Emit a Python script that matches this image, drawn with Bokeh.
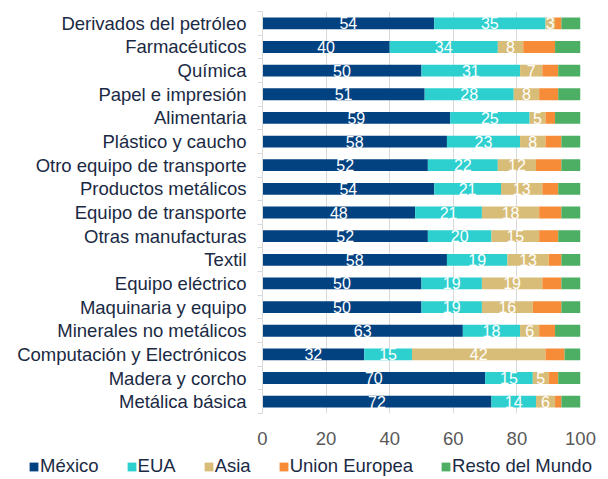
import numpy as np
from bokeh.plotting import figure
from bokeh.models import (ColumnDataSource, Range1d, FixedTicker, Legend, LegendItem, LabelSet)
from bokeh.core.properties import value
from bokeh.embed import file_html
from bokeh.resources import INLINE

categories = ["Derivados del petróleo", "Farmacéuticos", "Química", "Papel e impresión",
              "Alimentaria", "Plástico y caucho", "Otro equipo de transporte",
              "Productos metálicos", "Equipo de transporte", "Otras manufacturas", "Textil",
              "Equipo eléctrico", "Maquinaria y equipo", "Minerales no metálicos",
              "Computación y Electrónicos", "Madera y corcho", "Metálica básica"]
mexico = [54, 40, 50, 51, 59, 58, 52, 54, 48, 52, 58, 50, 50, 63, 32, 70, 72]
eua    = [35, 34, 31, 28, 25, 23, 22, 21, 21, 20, 19, 19, 19, 18, 15, 15, 14]
asia   = [3, 8, 7, 8, 5, 8, 12, 13, 18, 15, 13, 19, 16, 6, 42, 5, 6]
ue     = [2, 10, 5, 6, 3, 5, 8, 5, 7, 6, 4, 6, 9, 5, 6, 3, 2]
resto  = [6, 8, 7, 7, 8, 6, 6, 7, 6, 7, 6, 6, 6, 8, 5, 7, 6]
series_names = ["México", "EUA", "Asia", "Union Europea", "Resto del Mundo"]
x_ticks = [0, 20, 40, 60, 80, 100]

colors = ["#034281", "#2ecfcf", "#d8bd78", "#f68b38", "#4caf64"]
keys = ["mexico", "eua", "asia", "ue", "resto"]
FONT = "Liberation Sans"
FS = "18.5px"

n = len(categories)
ypos = list(range(n))
data = dict(y=ypos, mexico=mexico, eua=eua, asia=asia, ue=ue, resto=resto)
source = ColumnDataSource(data)

p = figure(width=608, height=455, output_backend="svg", toolbar_location=None,
           x_range=Range1d(0, 100), y_range=Range1d(n - 0.5, -0.5),
           min_border_left=262, min_border_right=28, min_border_top=11, min_border_bottom=42)
p.outline_line_color = None
p.background_fill_color = "white"

renderers = p.hbar_stack(keys, y="y", height=0.5, color=colors, source=source, line_color=None)

# value labels for first three series
cum = np.zeros(n)
for arr in [mexico, eua, asia]:
    a = np.array(arr, dtype=float)
    mid = cum + a / 2.0
    cum = cum + a
    ls = ColumnDataSource(dict(x=mid, y=ypos, t=[str(v) for v in arr]))
    p.add_layout(LabelSet(x="x", y="y", text="t", source=ls, text_color="white",
                          text_font=value(FONT), text_font_size="16px", text_align="center",
                          text_baseline="middle"))

# x axis
p.xaxis.ticker = FixedTicker(ticks=x_ticks)
p.xaxis.axis_line_color = None
p.xaxis.major_tick_line_color = None
p.xaxis.minor_tick_line_color = None
p.xaxis.major_label_text_font = FONT
p.xaxis.major_label_text_font_size = FS
p.xaxis.major_label_text_color = "#595959"
p.xaxis.major_label_standoff = 12

# y axis
p.yaxis.ticker = FixedTicker(ticks=ypos, minor_ticks=[i - 0.5 for i in range(n + 1)])
p.yaxis.major_label_overrides = {i: c for i, c in enumerate(categories)}
p.yaxis.axis_line_color = "#d9d9d9"
p.yaxis.major_tick_line_color = None
p.yaxis.minor_tick_line_color = "#d9d9d9"
p.yaxis.minor_tick_out = 5
p.yaxis.minor_tick_in = 0
p.yaxis.major_label_text_font = FONT
p.yaxis.major_label_text_font_size = FS
p.yaxis.major_label_text_color = "#1a2a44"
p.yaxis.major_label_standoff = 10

p.xgrid.grid_line_color = "#d9d9d9"
p.ygrid.grid_line_color = None

# legend figure (separate root, stacked below)
lg = figure(width=608, height=24, output_backend="svg", toolbar_location=None,
            x_axis_type=None, y_axis_type=None, min_border=0,
            x_range=Range1d(0, 100), y_range=Range1d(n - 0.5, -0.5))
lg.outline_line_color = None
lg.xgrid.visible = False
lg.ygrid.visible = False
lg_rs = lg.hbar_stack(keys, y="y", height=0.5, color=colors, source=source, line_color=None)
for r in lg_rs:
    r.visible = False
items = [LegendItem(label=nm, renderers=[r]) for nm, r in zip(series_names, lg_rs)]
legend = Legend(items=items, orientation="horizontal", location=(28, 2),
                border_line_color=None, background_fill_alpha=0,
                inactive_fill_alpha=0,
                label_text_font=FONT, label_text_font_size=FS, label_text_color="#1a2a44",
                glyph_width=11, glyph_height=11, label_standoff=1, spacing=27,
                padding=0, margin=0, label_height=20)
lg.add_layout(legend, "center")

open("out.html", "w").write(file_html([p, lg], INLINE))
